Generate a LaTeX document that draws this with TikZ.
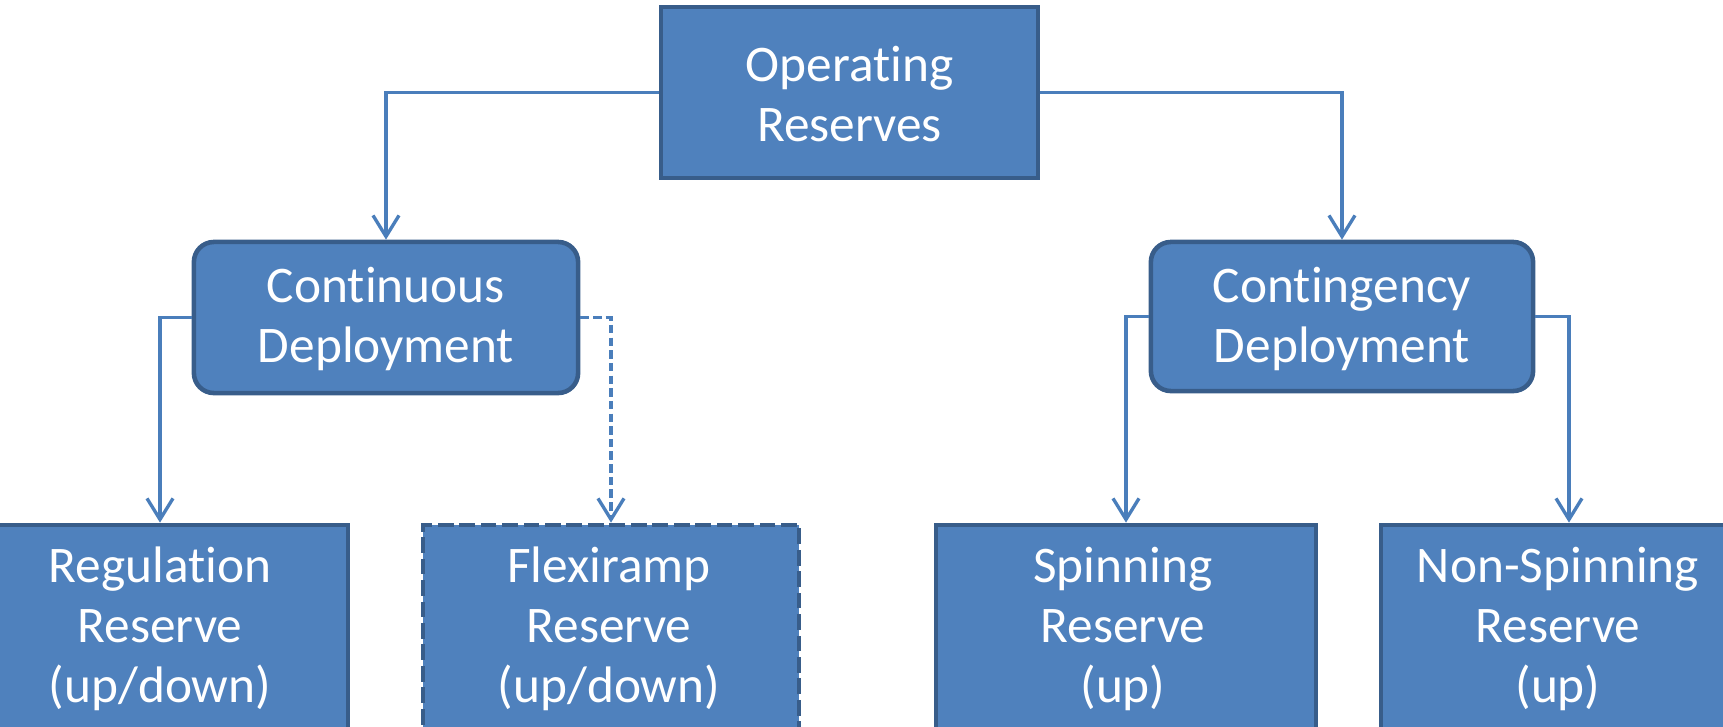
\documentclass[tikz,border=0pt]{standalone}
\usepackage{fontspec}
\setmainfont{Carlito}[Ligatures={NoCommon,NoContextual,NoRequired},Contextuals=NoAlternate]
\usetikzlibrary{arrows.meta}
\definecolor{boxfill}{HTML}{4F81BD}
\definecolor{boxline}{HTML}{385D8A}
\definecolor{conn}{HTML}{4A7EBB}
\newcommand\tiNoLig{t\kern0pt i}
\begin{document}
\begin{tikzpicture}[x=0.01cm,y=-0.01cm,
  sqbox/.style={draw=boxline, fill=boxfill, line width=1.3pt, inner sep=0pt},
  rbox/.style={sqbox, rounded corners=0.2cm},
  dbox/.style={sqbox, dash pattern=on 4.5pt off 1.6pt},
  txt/.style={text=white, align=center, font=\fontsize{14.6}{17}\selectfont, inner sep=0pt},
  conn/.style={draw=conn, line width=0.95pt, -{Straight Barb[length=6pt,width=7.4pt,line width=0.95pt]}},
  dconn/.style={conn, dash pattern=on 2.4pt off 1.2pt}]
\useasboundingbox (0,0) rectangle (1723,727);
\clip (0,0) rectangle (1723,727);
% top
\node[sqbox, minimum width=3.77cm, minimum height=1.71cm] (op) at (849.5,92.5) {};
\node[txt] (opt) at (849.5,94) {Opera\tiNoLig ng\\Reserves};
% middle
\node[rbox, minimum width=3.84cm, minimum height=1.51cm] (cd) at (386,317.5) {};
\node[txt] (cdt) at (386,319) {Con\tiNoLig nuous\\Deployment};
\node[rbox, minimum width=3.82cm, minimum height=1.49cm] (cg) at (1342,316.5) {};
\node[txt] (cgt) at (1342,319) {Con\tiNoLig ngency\\Deployment};
% bottom
\node[sqbox, minimum width=3.76cm, minimum height=2.22cm] (reg) at (160,636) {};
\node[txt] (regt) at (160,629) {Regula\tiNoLig on\\Reserve\\(up/down)};
\node[dbox, minimum width=3.76cm, minimum height=2.22cm] (flex) at (611,636) {};
\node[txt] (flext) at (609,629) {Flexiramp\\Reserve\\(up/down)};
\node[sqbox, minimum width=3.80cm, minimum height=2.22cm] (spin) at (1126,636) {};
\node[txt] (spint) at (1123,629) {Spinning\\Reserve\\(up)};
\node[sqbox, minimum width=3.76cm, minimum height=2.22cm] (nons) at (1569,636) {};
\node[txt] (nonst) at (1558,629) {Non-Spinning\\Reserve\\(up)};
% connectors
\draw[conn] (op.west) -| (cd.north);
\draw[conn] (op.east) -| (cg.north);
\draw[conn] (cd.west) -| (reg.north);
\draw[dconn] (cd.east) -| (flex.north);
\draw[conn] (cg.west) -| (spin.north);
\draw[conn] (cg.east) -| (nons.north);
\end{tikzpicture}
\end{document}
